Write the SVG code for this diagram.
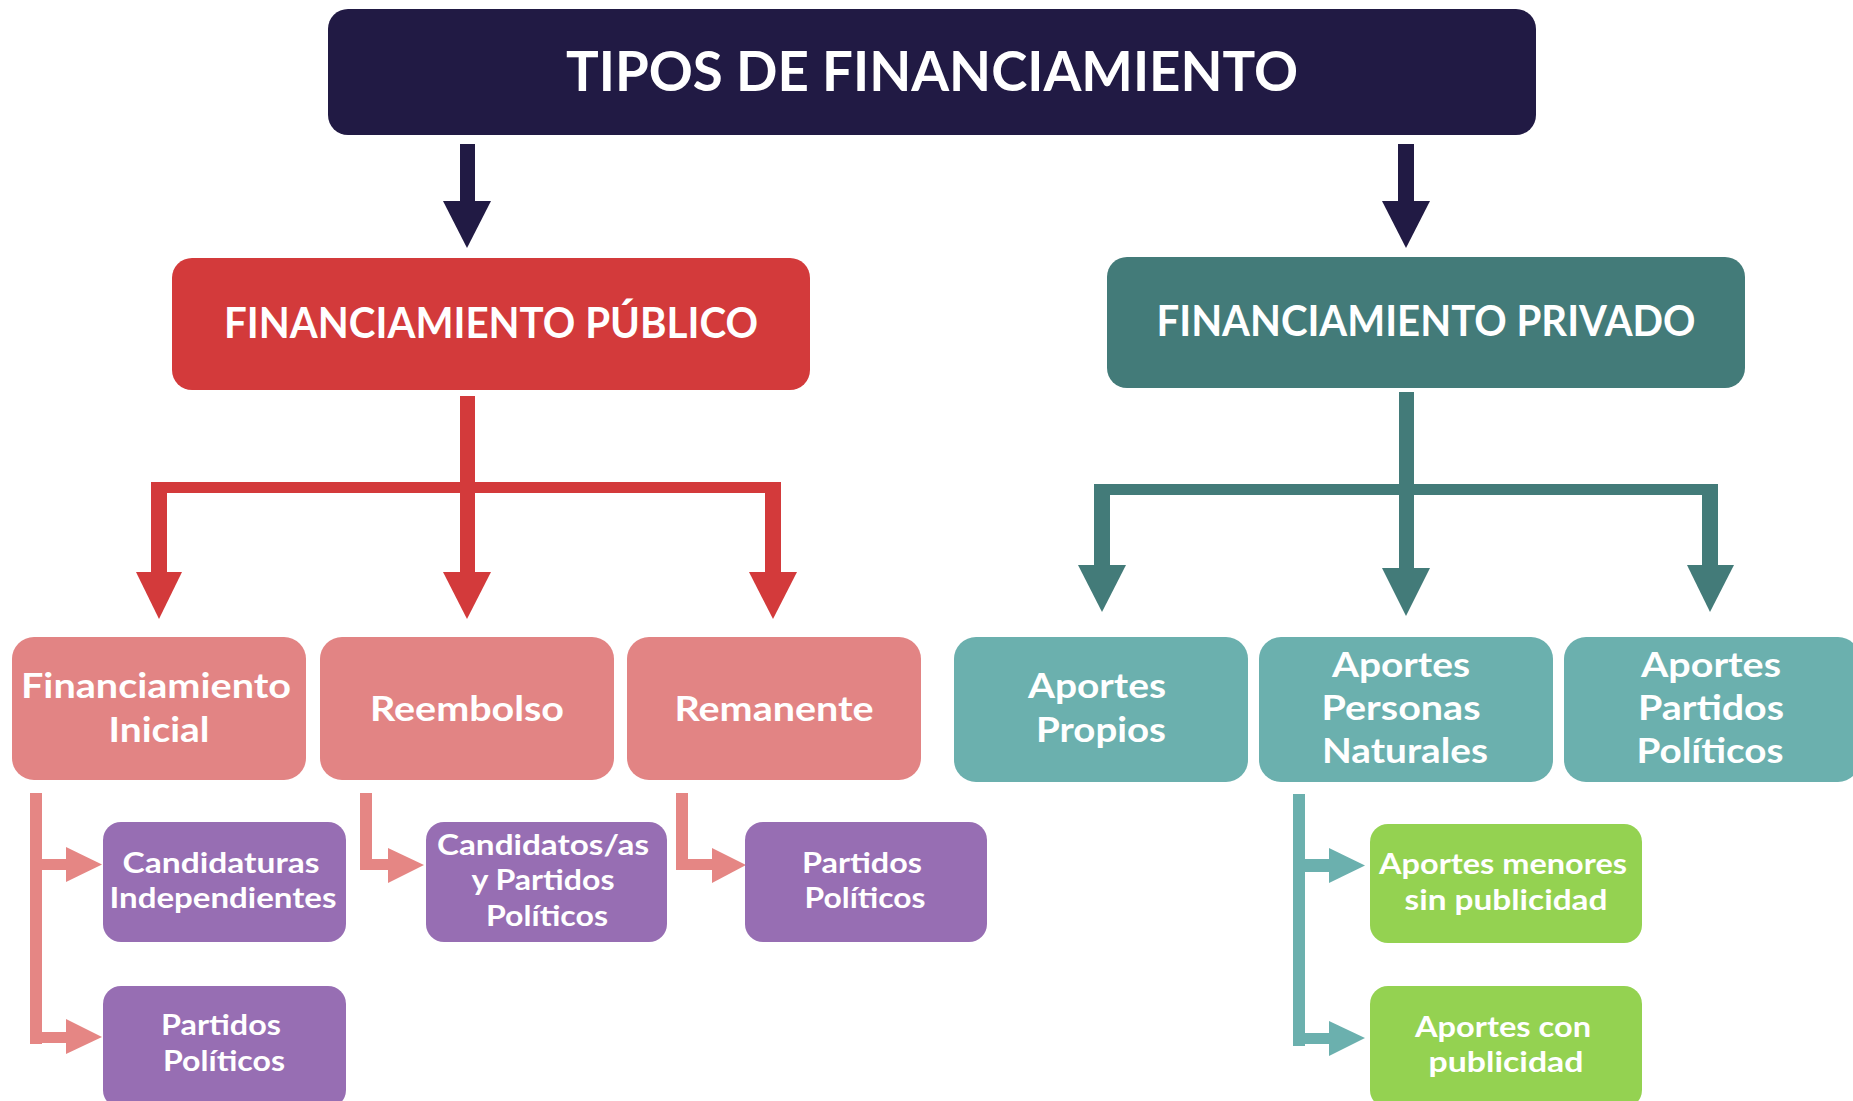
<svg xmlns="http://www.w3.org/2000/svg" width="1853" height="1101" viewBox="0 0 1853 1101">
<style>
text{font-family:Lato,"Open Sans","Liberation Sans",sans-serif;fill:#ffffff;text-anchor:middle;font-weight:700}
.t0{font-size:56px}
.t1{font-size:42px}
.t2{font-size:34px}
.t3{font-size:28px}
.navy{fill:#211A44}
.red{fill:#D33A3B}
.dteal{fill:#437B79}
.pink{fill:#E28484}
.lteal{fill:#6BB0AE}
.purple{fill:#976EB3}
.green{fill:#94D251}
.pinkc{fill:#E58684}
</style>
<rect width="1853" height="1101" fill="#ffffff"/>
<g id="connectors">
  <rect class="navy" x="460" y="144" width="15" height="58"/>
  <polygon class="navy" points="443,201 491,201 467,248"/>
  <rect class="navy" x="1398" y="144" width="16" height="58"/>
  <polygon class="navy" points="1382,201 1430,201 1406,248"/>
  <rect class="red" x="460" y="396" width="15" height="177"/>
  <rect class="red" x="151" y="482" width="630" height="11"/>
  <rect class="red" x="151" y="482" width="16" height="91"/>
  <rect class="red" x="765" y="482" width="16" height="91"/>
  <polygon class="red" points="136,572 182,572 159,619"/>
  <polygon class="red" points="443,572 491,572 467,619"/>
  <polygon class="red" points="749,572 797,572 773,619"/>
  <rect class="dteal" x="1399" y="392" width="15" height="177"/>
  <rect class="dteal" x="1094" y="484" width="624" height="11"/>
  <rect class="dteal" x="1094" y="484" width="16" height="82"/>
  <rect class="dteal" x="1702" y="484" width="16" height="82"/>
  <polygon class="dteal" points="1078,565 1126,565 1102,612"/>
  <polygon class="dteal" points="1382,568 1430,568 1406,616"/>
  <polygon class="dteal" points="1687,565 1734,565 1710,612"/>
  <rect class="pinkc" x="30" y="793" width="12" height="251"/>
  <rect class="pinkc" x="41" y="859" width="26" height="11"/>
  <polygon class="pinkc" points="66,847 102,864.5 66,882"/>
  <rect class="pinkc" x="41" y="1032" width="26" height="11"/>
  <polygon class="pinkc" points="66,1019 102,1037 66,1054"/>
  <rect class="pinkc" x="360" y="793" width="12" height="77"/>
  <rect class="pinkc" x="371" y="859" width="18" height="11"/>
  <polygon class="pinkc" points="388,848 424,865 388,883"/>
  <rect class="pinkc" x="676" y="793" width="12" height="77"/>
  <rect class="pinkc" x="687" y="859" width="26" height="11"/>
  <polygon class="pinkc" points="712,848 746,865 712,883"/>
  <rect class="lteal" x="1293" y="794" width="12" height="252"/>
  <rect class="lteal" x="1304" y="859" width="26" height="13"/>
  <polygon class="lteal" points="1329,848 1365,865.5 1329,883"/>
  <rect class="lteal" x="1304" y="1033" width="26" height="11"/>
  <polygon class="lteal" points="1329,1021 1365,1038 1329,1056"/>
</g>
<g id="n-title">
  <rect class="navy" x="328" y="9" width="1208" height="126" rx="20"/>
  <text class="t0" x="932" y="91" textLength="732" lengthAdjust="spacingAndGlyphs">TIPOS DE FINANCIAMIENTO</text>
</g>
<g id="n-publico">
  <rect class="red" x="172" y="258" width="638" height="132" rx="20"/>
  <text class="t1" x="491" y="338" textLength="534" lengthAdjust="spacingAndGlyphs">FINANCIAMIENTO PÚBLICO</text>
</g>
<g id="n-privado">
  <rect class="dteal" x="1107" y="257" width="638" height="131" rx="20"/>
  <text class="t1" x="1426" y="336" textLength="539" lengthAdjust="spacingAndGlyphs">FINANCIAMIENTO PRIVADO</text>
</g>
<g id="n-inicial">
  <rect class="pink" x="12" y="637" width="294" height="143" rx="22"/>
  <text class="t2" x="156" y="698" textLength="270" lengthAdjust="spacingAndGlyphs">Financiamiento</text>
  <text class="t2" x="159" y="742" textLength="101" lengthAdjust="spacingAndGlyphs">Inicial</text>
</g>
<g id="n-reembolso">
  <rect class="pink" x="320" y="637" width="294" height="143" rx="22"/>
  <text class="t2" x="467" y="721" textLength="194" lengthAdjust="spacingAndGlyphs">Reembolso</text>
</g>
<g id="n-remanente">
  <rect class="pink" x="627" y="637" width="294" height="143" rx="22"/>
  <text class="t2" x="774" y="721" textLength="199" lengthAdjust="spacingAndGlyphs">Remanente</text>
</g>
<g id="n-propios">
  <rect class="lteal" x="954" y="637" width="294" height="145" rx="22"/>
  <text class="t2" x="1097" y="698" textLength="138" lengthAdjust="spacingAndGlyphs">Aportes</text>
  <text class="t2" x="1101" y="742" textLength="130" lengthAdjust="spacingAndGlyphs">Propios</text>
</g>
<g id="n-personas">
  <rect class="lteal" x="1259" y="637" width="294" height="145" rx="22"/>
  <text class="t2" x="1401" y="677" textLength="138" lengthAdjust="spacingAndGlyphs">Aportes</text>
  <text class="t2" x="1401" y="720" textLength="159" lengthAdjust="spacingAndGlyphs">Personas</text>
  <text class="t2" x="1405" y="763" textLength="166" lengthAdjust="spacingAndGlyphs">Naturales</text>
</g>
<g id="n-partidos-aportes">
  <rect class="lteal" x="1564" y="637" width="296" height="145" rx="22"/>
  <text class="t2" x="1711" y="677" textLength="140" lengthAdjust="spacingAndGlyphs">Aportes</text>
  <text class="t2" x="1711" y="720" textLength="146" lengthAdjust="spacingAndGlyphs">Partidos</text>
  <text class="t2" x="1710" y="763" textLength="147" lengthAdjust="spacingAndGlyphs">Políticos</text>
</g>
<g id="n-candidaturas">
  <rect class="purple" x="103" y="822" width="243" height="120" rx="18"/>
  <text class="t3" x="221" y="873" textLength="197" lengthAdjust="spacingAndGlyphs">Candidaturas</text>
  <text class="t3" x="223" y="908" textLength="227" lengthAdjust="spacingAndGlyphs">Independientes</text>
</g>
<g id="n-partidos-1">
  <rect class="purple" x="103" y="986" width="243" height="122" rx="18"/>
  <text class="t3" x="221" y="1035" textLength="120" lengthAdjust="spacingAndGlyphs">Partidos</text>
  <text class="t3" x="224" y="1071" textLength="122" lengthAdjust="spacingAndGlyphs">Políticos</text>
</g>
<g id="n-candidatos">
  <rect class="purple" x="426" y="822" width="241" height="120" rx="18"/>
  <text class="t3" x="543" y="855" textLength="212" lengthAdjust="spacingAndGlyphs">Candidatos/as</text>
  <text class="t3" x="543" y="890" textLength="143" lengthAdjust="spacingAndGlyphs">y Partidos</text>
  <text class="t3" x="547" y="926" textLength="122" lengthAdjust="spacingAndGlyphs">Políticos</text>
</g>
<g id="n-partidos-2">
  <rect class="purple" x="745" y="822" width="242" height="120" rx="18"/>
  <text class="t3" x="862" y="873" textLength="120" lengthAdjust="spacingAndGlyphs">Partidos</text>
  <text class="t3" x="865" y="908" textLength="121" lengthAdjust="spacingAndGlyphs">Políticos</text>
</g>
<g id="n-menores">
  <rect class="green" x="1370" y="824" width="272" height="119" rx="18"/>
  <text class="t3" x="1503" y="874" textLength="248" lengthAdjust="spacingAndGlyphs">Aportes menores</text>
  <text class="t3" x="1506" y="910" textLength="203" lengthAdjust="spacingAndGlyphs">sin publicidad</text>
</g>
<g id="n-con">
  <rect class="green" x="1370" y="986" width="272" height="122" rx="18"/>
  <text class="t3" x="1503" y="1037" textLength="176" lengthAdjust="spacingAndGlyphs">Aportes con</text>
  <text class="t3" x="1506" y="1072" textLength="155" lengthAdjust="spacingAndGlyphs">publicidad</text>
</g>
</svg>
